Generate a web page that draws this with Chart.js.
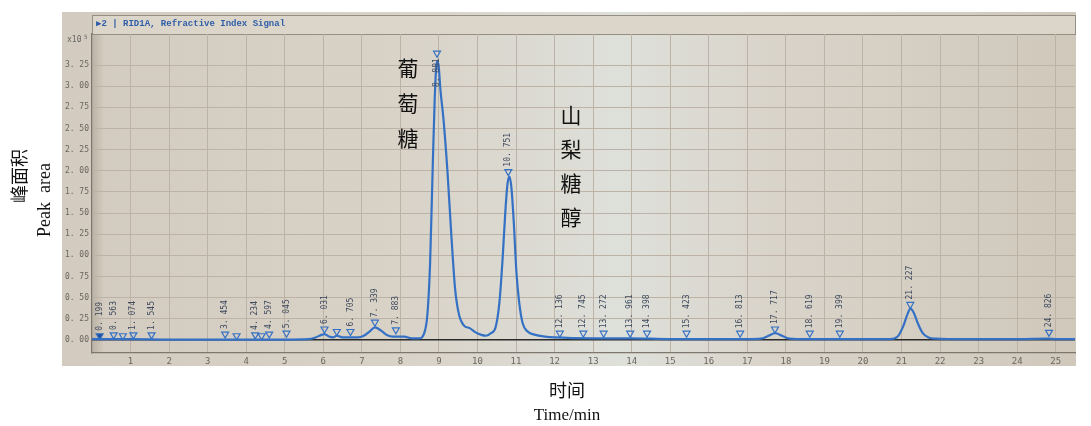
<!DOCTYPE html>
<html>
<head>
<meta charset="utf-8">
<script src="https://cdn.jsdelivr.net/npm/chart.js@4.4.1/dist/chart.umd.min.js"></script>
<style>
  html, body { margin: 0; padding: 0; background: #fff; }
  #wrap { width: 1091px; height: 426px; }
</style>
</head>
<body>
<div id="wrap"><canvas id="chromChart" width="1091" height="426"></canvas></div>
<script>
// chromatogram trace (time in min, signal x10^5)
const traceTimes = [0, 0.5, 1, 2, 3, 4, 5, 5.6, 5.8, 5.95, 6.03, 6.15, 6.25, 6.35, 6.5, 6.7, 6.9, 7.05, 7.2, 7.34, 7.5, 7.65, 7.8, 7.9, 8.1, 8.3, 8.5, 8.6, 8.7, 8.77, 8.83, 8.89, 8.95, 8.99, 9.04, 9.12, 9.22, 9.32, 9.42, 9.52, 9.65, 9.8, 9.95, 10.1, 10.22, 10.35, 10.47, 10.57, 10.65, 10.72, 10.78, 10.83, 10.88, 10.94, 11.01, 11.08, 11.17, 11.3, 11.5, 11.75, 12, 13, 14, 15, 16, 17, 17.35, 17.55, 17.72, 17.9, 18.1, 18.3, 19, 20, 20.7, 20.9, 21.05, 21.15, 21.23, 21.32, 21.42, 21.55, 21.7, 21.9, 22.2, 23, 24, 24.8, 25, 25.5];
const traceSignal = [0.01, 0.01, 0.01, 0.005, 0.005, 0.005, 0.005, 0.01, 0.03, 0.06, 0.07, 0.04, 0.03, 0.05, 0.03, 0.03, 0.03, 0.05, 0.1, 0.15, 0.11, 0.06, 0.04, 0.04, 0.04, 0.02, 0.02, 0.06, 0.3, 0.9, 1.9, 2.85, 3.3, 3.25, 2.95, 2.6, 2.0, 1.25, 0.6, 0.3, 0.17, 0.14, 0.09, 0.06, 0.05, 0.08, 0.15, 0.45, 0.95, 1.5, 1.85, 1.93, 1.8, 1.4, 0.8, 0.45, 0.2, 0.1, 0.06, 0.04, 0.03, 0.02, 0.02, 0.01, 0.01, 0.01, 0.015, 0.05, 0.08, 0.05, 0.015, 0.01, 0.01, 0.01, 0.01, 0.04, 0.17, 0.3, 0.37, 0.32, 0.2, 0.08, 0.03, 0.015, 0.01, 0.01, 0.01, 0.015, 0.01, 0.01];

// integration markers
const markerTimes = [0.199, 0.563, 0.8, 1.074, 1.545, 3.454, 3.75, 4.234, 4.4, 4.597, 5.045, 6.031, 6.35, 6.705, 7.339, 7.883, 8.95, 10.8, 12.136, 12.745, 13.272, 13.961, 14.398, 15.423, 16.813, 17.717, 18.619, 19.399, 21.227, 24.826];
const markerLevels = [0.05, 0.06, 0.05, 0.06, 0.06, 0.07, 0.05, 0.06, 0.05, 0.07, 0.08, 0.13, 0.1, 0.1, 0.21, 0.12, 3.39, 1.99, 0.08, 0.08, 0.08, 0.08, 0.08, 0.08, 0.08, 0.13, 0.08, 0.08, 0.42, 0.09];
const markerLabels = ["0.199", "0.563", "", "1.074", "1.545", "3.454", "", "4.234", "", "4.597", "5.045", "6.031", "", "6.705", "7.339", "7.883", "8.881", "10.751", "12.136", "12.745", "13.272", "13.961", "14.398", "15.423", "16.813", "17.717", "18.619", "19.399", "21.227", "24.826"];

// axes
const xTicks = [1, 2, 3, 4, 5, 6, 7, 8, 9, 10, 11, 12, 13, 14, 15, 16, 17, 18, 19, 20, 21, 22, 23, 24, 25];
const yTicks = [0, 0.25, 0.5, 0.75, 1, 1.25, 1.5, 1.75, 2, 2.25, 2.5, 2.75, 3, 3.25];

// compound names written on the chart
const glucoseName = ["葡", "萄", "糖"];
const sorbitolName = ["山", "梨", "糖", "醇"];

const blue = "#3471c4";
const mono = "'DejaVu Sans Mono', monospace";
const serif = "'Liberation Serif', 'Noto Sans CJK SC', serif";

const paperPlugin = {
  id: "paper",
  beforeDraw(chart) {
    const ctx = chart.ctx;
    const area = chart.chartArea;
    ctx.save();
    ctx.fillStyle = "#fff";
    ctx.fillRect(0, 0, chart.width, chart.height);
    const g = ctx.createLinearGradient(62, 0, 1076, 0);
    g.addColorStop(0, "#d3cbbf");
    g.addColorStop(0.3, "#d8d1c5");
    g.addColorStop(0.45, "#dbd9d1");
    g.addColorStop(0.55, "#dee0da");
    g.addColorStop(0.7, "#d9d4ca");
    g.addColorStop(1, "#d0c8bb");
    ctx.fillStyle = g;
    ctx.fillRect(62, 12, 1014, 354);
    // darker band at left edge of plot
    const band = ctx.createLinearGradient(area.left, 0, area.left + 12, 0);
    band.addColorStop(0, "rgba(140,130,115,0.35)");
    band.addColorStop(1, "rgba(140,130,115,0)");
    ctx.fillStyle = band;
    ctx.fillRect(area.left, area.top, 12, area.bottom - area.top);
    // header bar
    ctx.fillStyle = "#dcd5ca";
    ctx.fillRect(area.left, 15, area.right - area.left, area.top - 15);
    ctx.strokeStyle = "#958e83";
    ctx.lineWidth = 1;
    ctx.strokeRect(area.left + 0.5, 15.5, area.right - area.left, area.top - 15);
    ctx.restore();
  },
  afterDraw(chart) {
    const ctx = chart.ctx;
    const area = chart.chartArea;
    const xs = chart.scales.x;
    const ys = chart.scales.y;
    ctx.save();
    // header text
    ctx.fillStyle = "#2f5ea8";
    ctx.font = "bold 9px 'Liberation Mono', monospace";
    ctx.textBaseline = "middle";
    ctx.fillText("▶2 | RID1A, Refractive Index Signal", area.left + 4, 24);
    ctx.fillStyle = "#666";
    ctx.font = "8px " + mono;
    ctx.fillText("x10", 67, 40);
    ctx.font = "6px " + mono;
    ctx.fillText("5", 84, 37);

    // peak labels, rotated
    ctx.fillStyle = "#3e4a5e";
    ctx.font = "8px " + mono;
    markerTimes.forEach((t, i) => {
      const txt = markerLabels[i];
      if (!txt) return;
      const px = xs.getPixelForValue(t);
      const py = ys.getPixelForValue(markerLevels[i]);
      ctx.save();
      ctx.translate(px, py);
      ctx.rotate(-Math.PI / 2);
      ctx.textBaseline = "middle";
      const label = txt.replace(".", ". ");
      if (py - 40 < area.top) {
        ctx.textAlign = "right";
        ctx.fillText(label, -5, 0);
      } else {
        ctx.textAlign = "left";
        ctx.fillText(label, 5, 0);
      }
      ctx.restore();
    });

    // compound names
    ctx.fillStyle = "#111";
    ctx.font = "21px 'Noto Sans CJK SC', serif";
    ctx.textAlign = "center";
    ctx.textBaseline = "middle";
    glucoseName.forEach((c, i) => ctx.fillText(c, 408, 68 + i * 35));
    sorbitolName.forEach((c, i) => ctx.fillText(c, 571, 115 + i * 34));

    // axis titles
    ctx.font = "18px 'Noto Sans CJK SC', serif";
    ctx.fillText("时间", 567, 390);
    ctx.font = "17px " + serif;
    ctx.fillText("Time/min", 567, 416);
    ctx.save();
    ctx.translate(19, 176);
    ctx.rotate(-Math.PI / 2);
    ctx.font = "18px 'Noto Sans CJK SC', serif";
    ctx.fillText("峰面积", 0, 0);
    ctx.restore();
    ctx.save();
    ctx.translate(45, 200);
    ctx.rotate(-Math.PI / 2);
    ctx.font = "18px " + serif;
    ctx.fillText("Peak  area", 0, 0);
    ctx.restore();
    ctx.restore();
  }
};

const ctx = document.getElementById("chromChart");
new Chart(ctx, {
  type: "line",
  data: {
    datasets: [
      {
        label: "RID signal",
        data: traceTimes.map((t, i) => ({ x: t, y: traceSignal[i] })),
        borderColor: blue,
        borderWidth: 2.2,
        pointRadius: 0,
        cubicInterpolationMode: "monotone",
        fill: false,
        order: 2
      },
      {
        label: "peaks",
        type: "scatter",
        data: markerTimes.map((t, i) => ({ x: t, y: markerLevels[i] })),
        pointStyle: "triangle",
        rotation: 180,
        pointRadius: 4,
        borderWidth: 1.2,
        borderColor: blue,
        backgroundColor: markerTimes.map((t, i) => i === 0 ? "#1f4f9f" : "rgba(0,0,0,0)"),
        order: 1
      }
    ]
  },
  options: {
    responsive: false,
    animation: false,
    layout: { padding: { left: 58, right: 16, top: 34, bottom: 60 } },
    plugins: {
      legend: { display: false },
      tooltip: { enabled: false }
    },
    scales: {
      x: {
        type: "linear",
        min: 0,
        max: 25.5,
        afterBuildTicks: scale => { scale.ticks = xTicks.map(v => ({ value: v })); },
        afterFit: scale => { scale.height = 13; },
        grid: { color: "#bcb3a6", lineWidth: 1, drawTicks: false },
        border: { color: "#7d776e", width: 1.2 },
        ticks: { color: "#6a665f", font: { family: mono, size: 9 }, padding: 3, maxRotation: 0 }
      },
      y: {
        min: -0.154,
        max: 3.617,
        afterBuildTicks: scale => { scale.ticks = yTicks.map(v => ({ value: v })); },
        afterFit: scale => { scale.width = 34; },
        grid: {
          color: c => c.tick && c.tick.value === 0 ? "#2b2b2b" : "#bcb3a6",
          lineWidth: c => c.tick && c.tick.value === 0 ? 1.6 : 1,
          drawTicks: false
        },
        border: { color: "#7d776e", width: 1.2 },
        ticks: {
          color: "#6a665f",
          font: { family: mono, size: 8 },
          padding: 3,
          callback: v => v.toFixed(2).replace(".", ". ")
        }
      }
    }
  },
  plugins: [paperPlugin]
});
</script>
</body>
</html>
